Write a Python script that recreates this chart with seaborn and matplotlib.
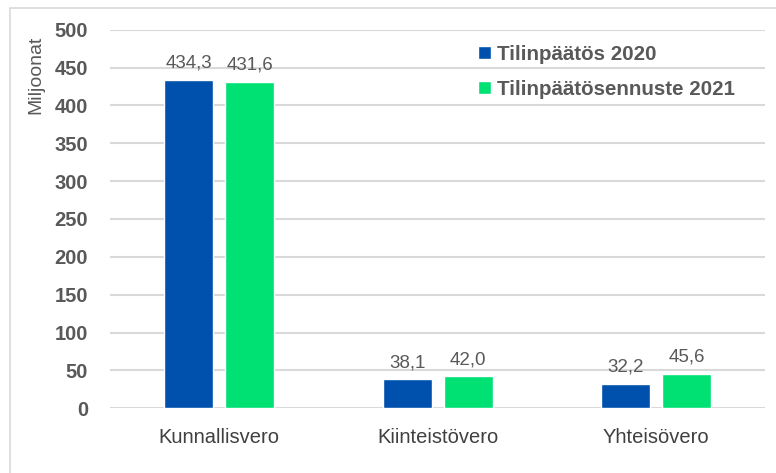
import pandas as pd
import matplotlib
matplotlib.use("Agg")
import matplotlib.pyplot as plt
import seaborn as sns
from matplotlib.patches import Rectangle

categories = ["Kunnallisvero", "Kiinteistövero", "Yhteisövero"]
series = ["Tilinpäätös 2020", "Tilinpäätösennuste 2021"]
values_2020 = [434.3, 38.1, 32.2]
values_2021 = [431.6, 42.0, 45.6]
yticks = [0, 50, 100, 150, 200, 250, 300, 350, 400, 450, 500]

df = pd.DataFrame({
    "vero": categories * 2,
    "sarja": [series[0]] * 3 + [series[1]] * 3,
    "arvo": values_2020 + values_2021,
})

sns.set_style("white")
plt.rcParams["font.family"] = ["Liberation Sans", "DejaVu Sans"]

fig = plt.figure(figsize=(7.76, 4.73), dpi=100)
ax = fig.add_axes([0.142, 0.137, 0.844, 0.8])

palette = {series[0]: "#0050AE", series[1]: "#00E174"}
sns.barplot(data=df, x="vero", y="arvo", hue="sarja", palette=palette,
            width=0.56, gap=0.2, ax=ax, saturation=1, legend=True)

for cont in ax.containers:
    ax.bar_label(cont, labels=[f"{v:.1f}".replace(".", ",") for v in cont.datavalues],
                 padding=6, fontsize=13.5, color="#595959")

ax.set_ylim(0, 500)
ax.set_xlim(-0.5, 2.5)
ax.set_yticks(yticks)
ax.set_yticklabels([str(t) for t in yticks], fontsize=14.5, fontweight="bold",
                   color="#595959")
ax.tick_params(axis="x", labelsize=14.5, labelcolor="#404040", length=0, pad=14)
ax.tick_params(axis="y", length=0, pad=16)
ax.yaxis.grid(True, color="#D9D9D9", linewidth=1.5)
ax.set_axisbelow(True)
for s in ax.spines.values():
    s.set_visible(False)
ax.set_xlabel("")
ax.set_ylabel("Miljoonat", fontsize=14, color="#595959", loc="top")
ax.yaxis.set_label_coords(-0.1, 0.985)

leg = ax.legend(loc="upper right", bbox_to_anchor=(0.985, 1.015), frameon=False,
                handlelength=0.6, handleheight=0.6, handletextpad=0.3,
                labelspacing=0.8, borderaxespad=0.6,
                prop={"weight": "bold", "size": 14.8})
for t in leg.get_texts():
    t.set_color("#595959")

fig.patches.append(Rectangle((10 / 776, -0.1), 1.2, 1.1 - 8 / 473 + 0.001,
                             transform=fig.transFigure, fill=False,
                             edgecolor="#D9D9D9", linewidth=1.2))

fig.savefig("out.png", dpi=100)
